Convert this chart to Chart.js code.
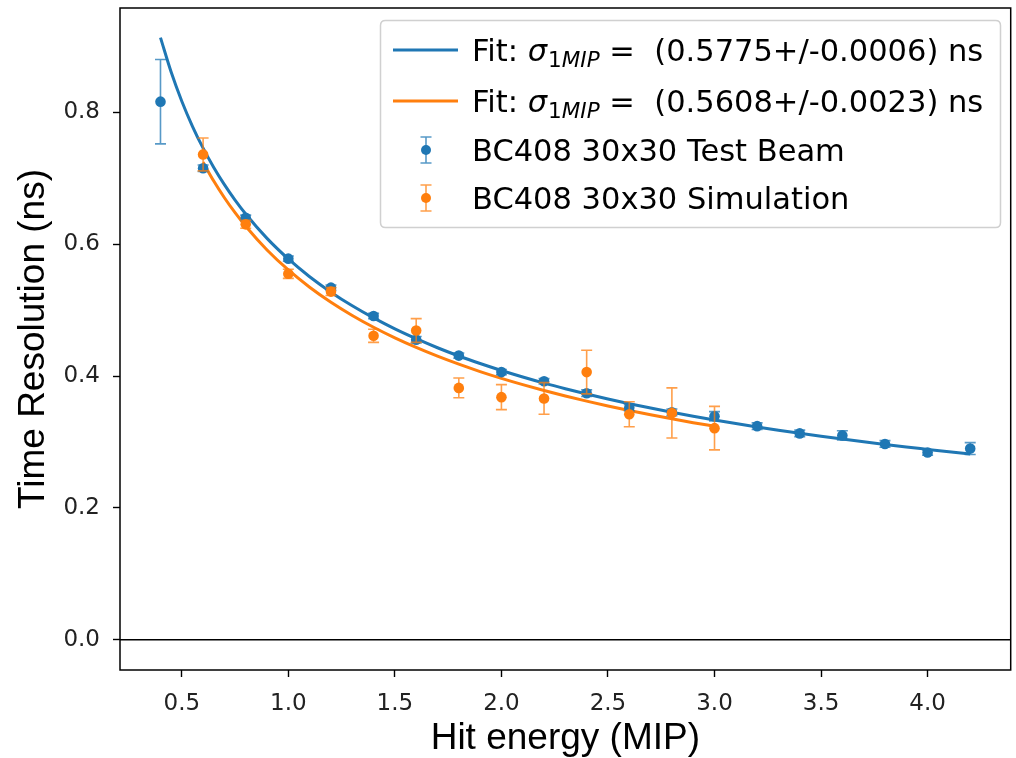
<!DOCTYPE html>
<html><head><meta charset="utf-8">
<script src="https://cdn.jsdelivr.net/npm/chart.js@4.4.1/dist/chart.umd.min.js"></script>
<style>html,body{margin:0;padding:0;background:#fff}#wrap{width:1016px;height:758px;position:relative}canvas{display:block}</style>
</head><body><div id="wrap"><canvas id="c" width="1016" height="758"></canvas></div>
<script>
// ---- Data ----
const beamEnergy = [0.4,0.6,0.8,1.0,1.2,1.4,1.6,1.8,2.0,2.2,2.4,2.6,2.8,3.0,3.2,3.4,3.6,3.8,4.0,4.2];
const beamRes    = [0.816,0.715,0.640,0.578,0.534,0.491,0.455,0.431,0.406,0.392,0.374,0.352,0.345,0.339,0.324,0.313,0.310,0.297,0.284,0.290];
const beamErr    = [0.064,0.005,0.004,0.004,0.004,0.004,0.005,0.004,0.004,0.004,0.005,0.005,0.005,0.007,0.005,0.005,0.007,0.005,0.004,0.009];

const simEnergy = [0.6,0.8,1.0,1.2,1.4,1.6,1.8,2.0,2.2,2.4,2.6,2.8,3.0];
const simRes    = [0.736,0.630,0.555,0.528,0.461,0.469,0.382,0.368,0.366,0.406,0.342,0.344,0.321];
const simErr    = [0.025,0.006,0.007,0.006,0.010,0.018,0.015,0.019,0.024,0.033,0.019,0.038,0.033];

// fit curves (sampled values of the fitted curves shown in the picture)
const fitBeamEnergy = [0.4,0.45,0.5,0.55,0.6,0.65,0.7,0.75,0.8,0.9,1.0,1.1,1.2,1.3,1.4,1.5,1.6,1.7,1.8,1.9,2.0,2.1,2.2,2.3,2.4,2.5,2.6,2.7,2.8,2.9,3.0,3.1,3.2,3.3,3.4,3.5,3.6,3.7,3.8,3.9,4.0,4.1,4.2];
const fitBeamRes    = [0.9131,0.8609,0.8167,0.7787,0.7455,0.7163,0.6902,0.6668,0.6457,0.6087,0.5775,0.5506,0.5272,0.5065,0.4881,0.4715,0.4566,0.4429,0.4304,0.4190,0.4084,0.3985,0.3893,0.3808,0.3728,0.3652,0.3581,0.3515,0.3451,0.3391,0.3334,0.3280,0.3228,0.3179,0.3132,0.3087,0.3044,0.3002,0.2962,0.2924,0.2888,0.2852,0.2818];
const fitSimEnergy  = [0.6,0.65,0.7,0.75,0.8,0.9,1.0,1.1,1.2,1.3,1.4,1.5,1.6,1.7,1.8,1.9,2.0,2.1,2.2,2.3,2.4,2.5,2.6,2.7,2.8,2.9,3.0];
const fitSimRes     = [0.7240,0.6956,0.6703,0.6476,0.6270,0.5911,0.5608,0.5347,0.5119,0.4919,0.4740,0.4579,0.4434,0.4301,0.4180,0.4068,0.3965,0.3870,0.3781,0.3698,0.3620,0.3547,0.3478,0.3413,0.3351,0.3293,0.3238];

const xTicks = [0.5,1.0,1.5,2.0,2.5,3.0,3.5,4.0];
const yTicks = [0.0,0.2,0.4,0.6,0.8];
const xRange = [0.21,4.39];
const yRange = [-0.0457,0.958];

const fitBeamLabel = {pre:'Fit: ', sub:'1MIP', post:' =  (0.5775+/-0.0006) ns'};
const fitSimLabel  = {pre:'Fit: ', sub:'1MIP', post:' =  (0.5608+/-0.0023) ns'};
const beamLabel = 'BC408 30x30 Test Beam';
const simLabel  = 'BC408 30x30 Simulation';

const xTitle = 'Hit energy (MIP)';
const yTitle = 'Time Resolution (ns)';

const BLUE = '#1f77b4', ORANGE = '#ff7f0e';
const BLUE_ERR = 'rgba(31,119,180,0.75)', ORANGE_ERR = 'rgba(255,127,14,0.75)';

const pts = (xs, ys) => xs.map((x,i)=>({x:x,y:ys[i]}));

// ---- plugins ----
const frame = {
  id:'frame',
  beforeDatasetsDraw(chart){
    const {ctx, chartArea:a, scales:{y}} = chart;
    ctx.save();
    const y0 = y.getPixelForValue(0);
    ctx.strokeStyle = '#000'; ctx.lineWidth = 1.5;
    ctx.beginPath(); ctx.moveTo(a.left, y0); ctx.lineTo(a.right, y0); ctx.stroke();
    ctx.restore();
  },
  afterDatasetsDraw(chart){
    const {ctx, chartArea:a} = chart;
    ctx.save();
    ctx.strokeStyle = '#000'; ctx.lineWidth = 1.5;
    ctx.strokeRect(a.left, a.top, a.right-a.left, a.bottom-a.top);
    ctx.restore();
  }
};

const errorBars = {
  id:'errorBars',
  beforeDatasetDraw(chart, args){
    const ds = chart.data.datasets[args.index];
    if (!ds.errors) return;
    const {ctx, scales:{x, y}} = chart;
    ctx.save();
    ctx.strokeStyle = ds.errColor; ctx.lineWidth = 1.6;
    ds.data.forEach((p,i)=>{
      const e = ds.errors[i];
      const px = x.getPixelForValue(p.x);
      const yt = y.getPixelForValue(p.y + e), yb = y.getPixelForValue(p.y - e);
      ctx.beginPath();
      ctx.moveTo(px, yt); ctx.lineTo(px, yb);
      ctx.moveTo(px-5.5, yt); ctx.lineTo(px+5.5, yt);
      ctx.moveTo(px-5.5, yb); ctx.lineTo(px+5.5, yb);
      ctx.stroke();
    });
    ctx.restore();
  }
};

const customLegend = {
  id:'customLegend',
  afterDraw(chart){
    const {ctx} = chart;
    const bx = 380.5, by = 20.5, bw = 620, bh = 207, r = 5;
    ctx.save();
    ctx.beginPath();
    ctx.moveTo(bx+r, by); ctx.lineTo(bx+bw-r, by); ctx.quadraticCurveTo(bx+bw, by, bx+bw, by+r);
    ctx.lineTo(bx+bw, by+bh-r); ctx.quadraticCurveTo(bx+bw, by+bh, bx+bw-r, by+bh);
    ctx.lineTo(bx+r, by+bh); ctx.quadraticCurveTo(bx, by+bh, bx, by+bh-r);
    ctx.lineTo(bx, by+r); ctx.quadraticCurveTo(bx, by, bx+r, by);
    ctx.closePath();
    ctx.fillStyle = 'rgba(255,255,255,0.8)'; ctx.fill();
    ctx.strokeStyle = '#d0d0d0'; ctx.lineWidth = 1.5; ctx.stroke();

    const rows = [50, 101, 150, 198];
    const tx = 472;
    const fs = 30.5;
    ctx.textBaseline = 'alphabetic';
    ctx.fillStyle = '#000';
    const drawFit = (cy, color, lab) => {
      ctx.strokeStyle = color; ctx.lineWidth = 3;
      ctx.beginPath(); ctx.moveTo(393, cy); ctx.lineTo(458, cy); ctx.stroke();
      const base = cy + 11;
      let xx = tx;
      ctx.font = fs + 'px "DejaVu Sans"';
      ctx.fillText(lab.pre, xx, base); xx += ctx.measureText(lab.pre).width;
      ctx.font = 'italic ' + fs + 'px "DejaVu Sans"';
      ctx.fillText('σ', xx, base); xx += ctx.measureText('σ').width + 1;
      ctx.font = '21.5px "DejaVu Sans"';
      ctx.fillText(lab.sub[0], xx, base + 6); xx += ctx.measureText(lab.sub[0]).width;
      ctx.font = 'italic 21.5px "DejaVu Sans"';
      ctx.fillText(lab.sub.slice(1), xx, base + 6); xx += ctx.measureText(lab.sub.slice(1)).width;
      ctx.font = fs + 'px "DejaVu Sans"';
      ctx.fillText(lab.post, xx, base);
    };
    const drawErr = (cy, color, errColor, text) => {
      const cx = 426;
      ctx.strokeStyle = errColor; ctx.lineWidth = 1.6;
      ctx.beginPath();
      ctx.moveTo(cx, cy-13); ctx.lineTo(cx, cy+13);
      ctx.moveTo(cx-5.5, cy-13); ctx.lineTo(cx+5.5, cy-13);
      ctx.moveTo(cx-5.5, cy+13); ctx.lineTo(cx+5.5, cy+13);
      ctx.stroke();
      ctx.fillStyle = color;
      ctx.beginPath(); ctx.arc(cx, cy, 5, 0, Math.PI*2); ctx.fill();
      ctx.fillStyle = '#000';
      ctx.font = fs + 'px "DejaVu Sans"';
      ctx.fillText(text, tx, cy + 11);
    };
    drawFit(rows[0], BLUE, fitBeamLabel);
    drawFit(rows[1], ORANGE, fitSimLabel);
    drawErr(rows[2], BLUE, BLUE_ERR, beamLabel);
    drawErr(rows[3], ORANGE, ORANGE_ERR, simLabel);
    ctx.restore();
  }
};

new Chart(document.getElementById('c'), {
  type:'scatter',
  data:{
    datasets:[
      {label:'fitBeam', data:pts(fitBeamEnergy, fitBeamRes), showLine:true, pointRadius:0, borderColor:BLUE, borderWidth:3, cubicInterpolationMode:'monotone', order:4},
      {label:'fitSim', data:pts(fitSimEnergy, fitSimRes), showLine:true, pointRadius:0, borderColor:ORANGE, borderWidth:3, cubicInterpolationMode:'monotone', order:3},
      {label:beamLabel, data:pts(beamEnergy, beamRes), errors:beamErr, errColor:BLUE_ERR, showLine:false, pointRadius:5.3, pointBackgroundColor:BLUE, pointBorderWidth:0, borderColor:BLUE, order:2},
      {label:simLabel, data:pts(simEnergy, simRes), errors:simErr, errColor:ORANGE_ERR, showLine:false, pointRadius:5.3, pointBackgroundColor:ORANGE, pointBorderWidth:0, borderColor:ORANGE, order:1}
    ]
  },
  options:{
    responsive:false, animation:false, devicePixelRatio:1,
    layout:{padding:{left:0,right:2,top:8,bottom:0}},
    plugins:{legend:{display:false}, tooltip:{enabled:false}},
    scales:{
      x:{type:'linear', min:xRange[0], max:xRange[1],
        afterBuildTicks:(s)=>{ s.ticks = xTicks.map(v=>({value:v})); },
        afterFit:(s)=>{ s.height = 88; s.paddingLeft = 0; s.paddingRight = 0; },
        ticks:{callback:(v)=>Number(v).toFixed(1), color:'#222', font:{family:'DejaVu Sans', size:23}, padding:13, maxRotation:0, autoSkip:false},
        grid:{drawOnChartArea:false, drawTicks:true, tickLength:7, tickColor:'#000', tickWidth:1.4},
        border:{display:false},
        title:{display:true, text:xTitle, color:'#000', font:{family:'Liberation Sans', size:37}, padding:{top:0,bottom:-3}}
      },
      y:{type:'linear', min:yRange[0], max:yRange[1],
        afterBuildTicks:(s)=>{ s.ticks = yTicks.map(v=>({value:v})); },
        afterFit:(s)=>{ s.width = 120; s.paddingTop = 0; s.paddingBottom = 0; },
        ticks:{callback:(v)=>Number(v).toFixed(1), color:'#222', font:{family:'DejaVu Sans', size:23}, padding:13, autoSkip:false},
        grid:{drawOnChartArea:false, drawTicks:true, tickLength:7, tickColor:'#000', tickWidth:1.4},
        border:{display:false},
        title:{display:true, text:yTitle, color:'#000', font:{family:'Liberation Sans', size:37}, padding:{top:12,bottom:0}}
      }
    }
  },
  plugins:[frame, errorBars, customLegend]
});
</script></body></html>
